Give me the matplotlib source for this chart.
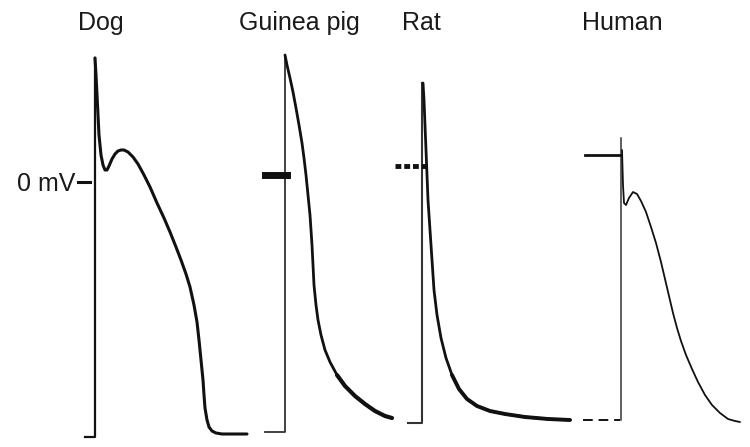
import matplotlib
matplotlib.use("Agg")
import matplotlib.pyplot as plt

# koordinatalar rasmdan olingan (x = vaqt o'qi, y = kuchlanish o'qi, tepadan pastga)
turlar = ["Dog", "Guinea pig", "Rat", "Human"]
yozuv_x = [101, 299, 421, 622]

# Dog
dog_x = [95, 96, 97, 98, 99, 101, 103, 105, 107, 109, 112, 115, 118, 121, 124, 128,
         133, 138, 144, 150, 157, 164, 170, 176, 181, 186, 190, 194, 197, 199, 201,
         203, 204, 205, 207, 209, 212, 216, 222, 235, 247]
dog_y = [58, 75, 95, 115, 135, 155, 165, 170, 170, 166, 159, 154, 151, 150, 150, 152,
         157, 164, 175, 187, 203, 218, 232, 247, 260, 274, 287, 305, 322, 340, 360,
         380, 395, 408, 420, 427, 431, 433, 434, 434, 434]
dog_tinch_x = [85, 95, 95]
dog_tinch_y = [437, 437, 58]

# Guinea pig
gp_x = [285, 287, 290, 293, 296, 299, 302, 304, 306, 308, 310, 311, 312, 313, 314,
        316, 318, 321, 325, 330, 337, 345, 355, 365, 375, 385, 392]
gp_y = [55, 65, 78, 92, 108, 125, 143, 158, 175, 195, 215, 230, 245, 265, 285,
        305, 320, 335, 350, 362, 375, 386, 396, 404, 411, 416, 418]
gp_tinch_x = [265, 285, 285]
gp_tinch_y = [432, 432, 55]

# Rat
rat_x = [423, 424, 425, 426, 427, 428, 430, 432, 434, 437, 441, 446, 452, 459, 467,
         477, 490, 505, 525, 548, 570]
rat_y = [83, 100, 125, 150, 175, 200, 230, 260, 290, 315, 338, 358, 375, 389, 399,
         406, 411, 414, 417, 419, 420]
rat_tinch_x = [408, 422, 422]
rat_tinch_y = [423, 423, 83]

# Human
hum_x = [622, 623, 624, 626, 629, 633, 637, 641, 646, 651, 656, 661, 665, 669, 673,
         677, 681, 686, 692, 698, 705, 712, 720, 728, 735, 740]
hum_y = [150, 185, 203, 205, 198, 192, 194, 201, 212, 227, 243, 262, 279, 296, 313,
         328, 341, 355, 369, 382, 395, 405, 413, 419, 421, 422]
hum_tinch_x = [583, 620, 621, 621]
hum_tinch_y = [420, 420, 420, 138]

# 0 mV belgilari
nol_dog = 182
nol_gp = [265, 287, 175]
nol_rat = [395, 430, 166]
nol_hum = [585, 620, 155]

plt.rcParams["font.family"] = ["Liberation Sans", "DejaVu Sans"]

fig = plt.figure(figsize=(7.5, 4.47), dpi=100)
ax = fig.add_axes([0, 0, 1, 1])
ax.set_xlim(0, 750)
ax.set_ylim(447, 0)
ax.axis("off")

rang = "#111111"
yumaloq = dict(solid_joinstyle="round", solid_capstyle="round")

# Dog
ax.plot(dog_tinch_x, dog_tinch_y, color=rang, lw=1.6)
ax.plot(dog_x, dog_y, color=rang, lw=2.2, **yumaloq)
ax.plot([78, 90], [nol_dog, nol_dog], color=rang, lw=2.2)
ax.text(75, nol_dog + 9, "0 mV", fontsize=18, ha="right", va="baseline", color="#1a1a1a")

# Guinea pig
ax.plot(gp_tinch_x, gp_tinch_y, color="#333333", lw=1.3)
ax.plot(gp_x, gp_y, color=rang, lw=2.0, **yumaloq)
ax.plot(gp_x[-7:], gp_y[-7:], color=rang, lw=3.0, **yumaloq)
ax.plot(nol_gp[:2], [nol_gp[2]] * 2, color=rang, lw=5)

# Rat
ax.plot(rat_tinch_x, rat_tinch_y, color="#333333", lw=1.5)
ax.plot(rat_x, rat_y, color=rang, lw=2.0, **yumaloq)
ax.plot(rat_x[-9:], rat_y[-9:], color=rang, lw=2.8, **yumaloq)
ax.plot(nol_rat[:2], [nol_rat[2]] * 2, color=rang, lw=3.5, linestyle=(0, (1.2, 0.6)))

# Human
ax.plot(hum_tinch_x[:2], hum_tinch_y[:2], color=rang, lw=1.4, linestyle=(0, (5, 3)))
ax.plot(hum_tinch_x[2:], hum_tinch_y[2:], color="#333333", lw=1.1)
ax.plot(hum_x, hum_y, color=rang, lw=1.3, **yumaloq)
ax.plot(nol_hum[:2], [nol_hum[2]] * 2, color=rang, lw=2.0)

for nom, x in zip(turlar, yozuv_x):
    ax.text(x, 30, nom, fontsize=18, ha="center", va="baseline", color="#1a1a1a")

plt.savefig("out.png", dpi=100)
plt.close()
